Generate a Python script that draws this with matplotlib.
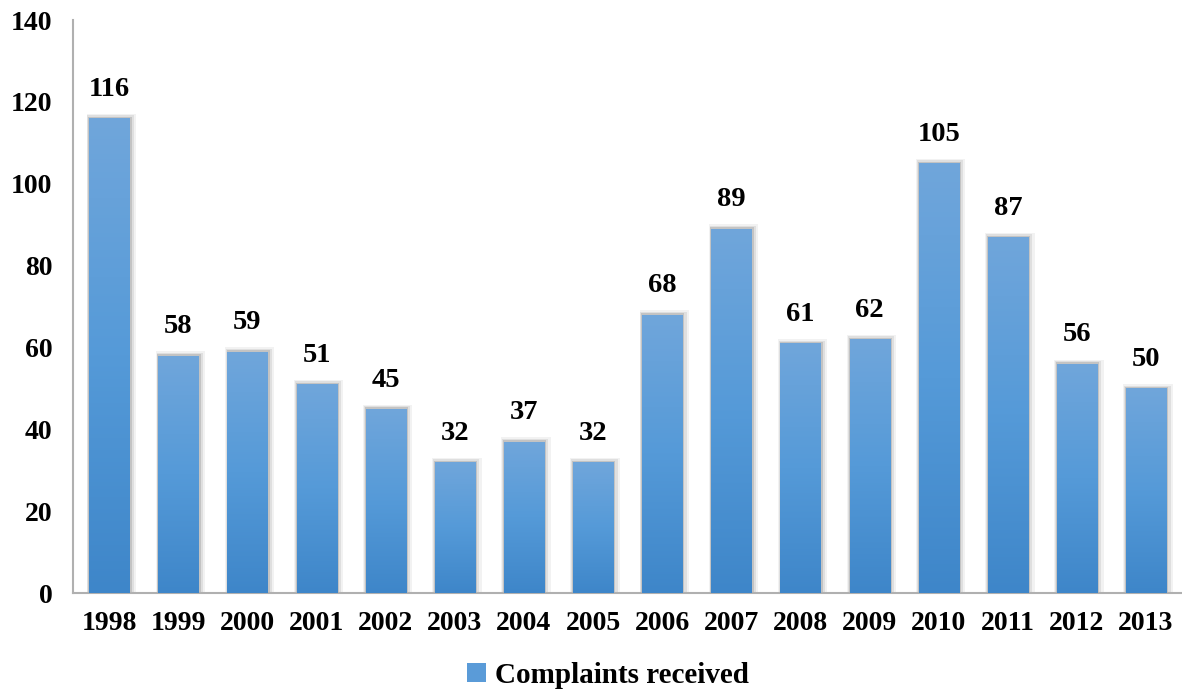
import matplotlib
matplotlib.use("Agg")
import matplotlib.pyplot as plt
import numpy as np
from matplotlib.patches import Rectangle
from matplotlib.colors import LinearSegmentedColormap

years = ["1998", "1999", "2000", "2001", "2002", "2003", "2004", "2005",
         "2006", "2007", "2008", "2009", "2010", "2011", "2012", "2013"]
complaints = [116, 58, 59, 51, 45, 32, 37, 32, 68, 89, 61, 62, 105, 87, 56, 50]
series_name = "Complaints received"

plt.rcParams['font.family'] = ['Liberation Serif', 'DejaVu Serif']
plt.rcParams['font.weight'] = 'bold'

fig = plt.figure(figsize=(11.82, 6.92), dpi=100)
ax = fig.add_axes([0.062, 0.143, 0.938, 0.828])

x = np.arange(len(years))
width = 0.58
cmap = LinearSegmentedColormap.from_list("g", ["#3e86c9", "#559ad8", "#70a6db"])
grad = np.linspace(0, 1, 256).reshape(-1, 1)

bars = ax.bar(x, complaints, width=width, color="none", edgecolor="none", zorder=3)
for b, v in zip(bars, complaints):
    x0 = b.get_x()
    # soft shadow
    for i, a in enumerate([0.12, 0.08, 0.05]):
        d = 0.025 * (i + 1)
        ax.add_patch(Rectangle((x0 - d * 0.5, 0), width + d * 1.8, v + 0.35 * (i + 1),
                               facecolor="#000000", alpha=a, edgecolor="none", zorder=2))
    im = ax.imshow(grad, extent=(x0, x0 + width, 0, v), origin="lower", cmap=cmap,
                   aspect="auto", zorder=3)
    im.set_clip_path(b)
    ax.text(b.get_x() + width / 2, v + 4, str(v), ha="center", va="bottom",
            fontsize=20.5, fontweight="bold", zorder=4)

ax.set_xlim(-0.52, len(years) - 0.48)
ax.set_ylim(0, 140)
ax.set_yticks(range(0, 141, 20))
ax.set_xticks(x)
ax.set_xticklabels(years)
ax.tick_params(axis="both", length=0, labelsize=20)
ax.tick_params(axis="x", pad=13)
ax.tick_params(axis="y", pad=15)
for lbl in ax.get_xticklabels() + ax.get_yticklabels():
    lbl.set_fontweight("bold")
for s in ["top", "right"]:
    ax.spines[s].set_visible(False)
for s in ["left", "bottom"]:
    ax.spines[s].set_color("#b0b0b0")
    ax.spines[s].set_linewidth(1.5)

handle = Rectangle((0, 0), 1, 1, facecolor="#5a9bd8", edgecolor="none")
fig.legend([handle], [series_name], loc="center", bbox_to_anchor=(0.5145, 0.024),
           frameon=False, handlelength=0.65, handleheight=0.65,
           handletextpad=0.3, prop={"weight": "bold", "size": 21})

fig.savefig("out.png", dpi=100)
